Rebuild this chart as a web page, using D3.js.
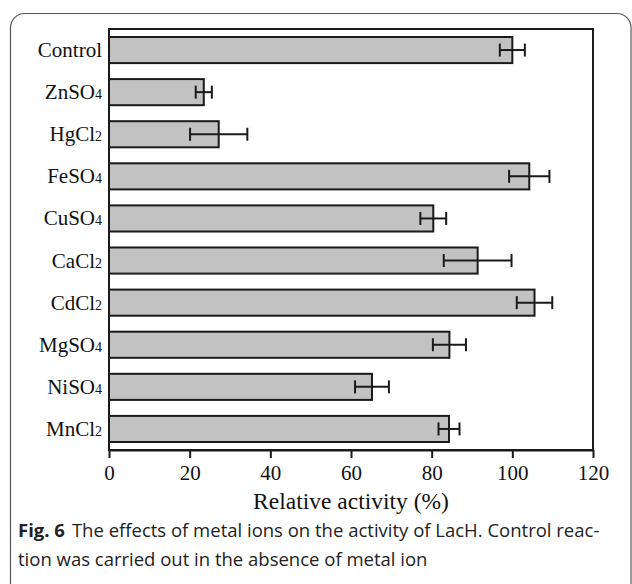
<!DOCTYPE html>
<html>
<head>
<meta charset="utf-8">
<script src="https://cdn.jsdelivr.net/npm/d3@7"></script>
<style>
  body { margin: 0; background: #fff; }
  svg { display: block; }
</style>
</head>
<body>
<div id="chart"></div>
<script>
// Data (relative activity, %)
const ions = ["Control", "ZnSO4", "HgCl2", "FeSO4", "CuSO4", "CaCl2", "CdCl2", "MgSO4", "NiSO4", "MnCl2"];
const activity = [100, 23.5, 27.2, 104.2, 80.4, 91.4, 105.5, 84.4, 65.2, 84.3];
const errors = [3.1, 2, 7.1, 5, 3.2, 8.4, 4.4, 4.1, 4.2, 2.6];
const xTicks = [0, 20, 40, 60, 80, 100, 120];

const W = 632, H = 584;
const margin = {top: 29, right: 39, bottom: 134, left: 109},
      width = W - margin.left - margin.right,
      height = H - margin.top - margin.bottom;

const serif = "'Liberation Serif', 'Times New Roman', serif";

const svg = d3.select("#chart")
              .append("svg")
              .attr("width", W)
              .attr("height", H);

// rounded outer frame of the figure
svg.append("rect")
   .attr("x", 10.5).attr("y", 13.5)
   .attr("width", 620.5).attr("height", 600)
   .attr("rx", 14)
   .attr("fill", "none")
   .attr("stroke", "#555")
   .attr("stroke-width", 1.2);

const g = svg.append("g")
             .attr("transform", `translate(${margin.left},${margin.top})`);

const x = d3.scaleLinear().domain([0, 120]).range([0, width]);
const y = d3.scaleBand().domain(ions).range([0, height]).paddingInner(0.38).paddingOuter(0.19);

// plot box
g.append("rect")
 .attr("width", width).attr("height", height)
 .attr("fill", "none")
 .attr("stroke", "#1a1a1a")
 .attr("stroke-width", 2);

// bars
g.selectAll(".bar")
 .data(ions)
 .enter()
 .append("rect")
 .attr("class", "bar")
 .attr("x", 0)
 .attr("y", d => y(d))
 .attr("width", (d, i) => x(activity[i]))
 .attr("height", y.bandwidth())
 .attr("fill", "#c2c2c2")
 .attr("stroke", "#1a1a1a")
 .attr("stroke-width", 2);

// error bars
const eb = g.selectAll(".err")
            .data(ions)
            .enter()
            .append("g")
            .attr("class", "err")
            .attr("stroke", "#1a1a1a")
            .attr("stroke-width", 2);
eb.append("line")
  .attr("x1", (d, i) => x(activity[i] - errors[i]))
  .attr("x2", (d, i) => x(activity[i] + errors[i]))
  .attr("y1", d => y(d) + y.bandwidth() / 2)
  .attr("y2", d => y(d) + y.bandwidth() / 2);
[-1, 1].forEach(s => {
  eb.append("line")
    .attr("x1", (d, i) => x(activity[i] + s * errors[i]))
    .attr("x2", (d, i) => x(activity[i] + s * errors[i]))
    .attr("y1", d => y(d) + y.bandwidth() / 2 - 6.5)
    .attr("y2", d => y(d) + y.bandwidth() / 2 + 6.5);
});

// x axis
const xAxis = g.append("g")
               .attr("transform", `translate(0,${height})`)
               .call(d3.axisBottom(x).tickValues(xTicks).tickSize(8).tickPadding(7).tickSizeOuter(0));
xAxis.select(".domain").attr("stroke", "#1a1a1a").attr("stroke-width", 2);
xAxis.selectAll(".tick line").attr("stroke", "#1a1a1a").attr("stroke-width", 2);
xAxis.selectAll(".tick text")
     .attr("font-family", serif)
     .attr("font-size", 21)
     .attr("fill", "#111");

// category labels with subscript digits
const labels = g.selectAll(".lab")
                .data(ions)
                .enter()
                .append("text")
                .attr("class", "lab")
                .attr("x", -7)
                .attr("y", d => y(d) + y.bandwidth() / 2 + 7)
                .attr("text-anchor", "end")
                .attr("font-family", serif)
                .attr("font-size", 21)
                .attr("fill", "#111");
labels.each(function(d) {
  const t = d3.select(this);
  const m = d.match(/^(.*?)(\d)?$/);
  t.append("tspan").text(m[1]);
  if (m[2]) t.append("tspan").attr("font-size", 14).text(m[2]);
});

// axis title
g.append("text")
 .attr("x", width / 2)
 .attr("y", height + 59)
 .attr("text-anchor", "middle")
 .attr("font-family", serif)
 .attr("font-size", 23.5)
 .attr("fill", "#111")
 .text("Relative activity (%)");

// caption
const cap = svg.append("g")
               .attr("font-family", "'Open Sans', 'Noto Sans', sans-serif")
               .attr("font-size", 18.5)
               .attr("fill", "#222");
const l1 = cap.append("text").attr("x", 18).attr("y", 537);
l1.append("tspan").attr("font-weight", "bold").text("Fig. 6");
l1.append("tspan").attr("dx", 7).text("The effects of metal ions on the activity of LacH. Control reac-");
cap.append("text").attr("x", 18).attr("y", 566)
   .text("tion was carried out in the absence of metal ion");
</script>
</body>
</html>
